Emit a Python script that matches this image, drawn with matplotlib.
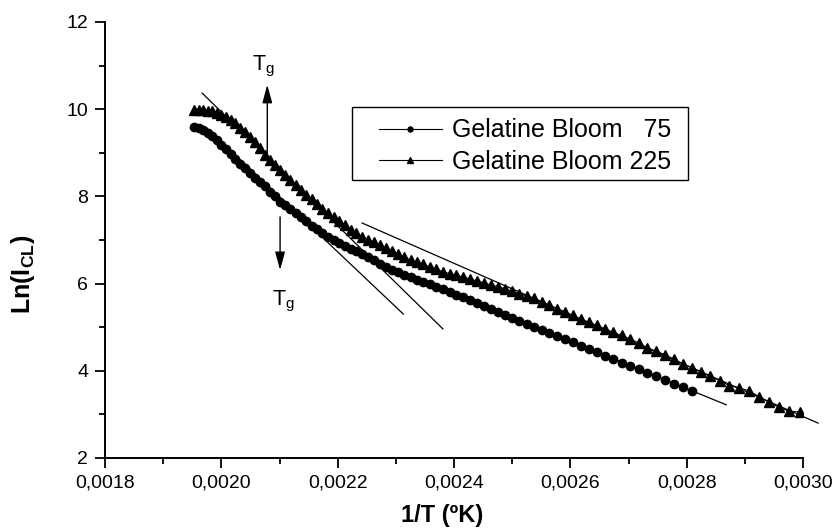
import matplotlib
matplotlib.use("Agg")
import matplotlib.pyplot as plt
from matplotlib.patches import Rectangle
from matplotlib.ticker import MultipleLocator, FuncFormatter

plt.rcParams["font.family"] = ["Liberation Sans", "DejaVu Sans"]
plt.rcParams["mathtext.fontset"] = "custom"
plt.rcParams["mathtext.rm"] = "Liberation Sans"
plt.rcParams["mathtext.bf"] = "Liberation Sans:bold"
plt.rcParams["mathtext.it"] = "Liberation Sans:italic"

# 1/T (K^-1), common abscissa for both samples (2 K steps)
inv_T = [
    0.0019531, 0.0019608, 0.0019685, 0.0019763, 0.0019841, 0.0019920, 0.0020000, 0.0020080,
    0.0020161, 0.0020243, 0.0020325, 0.0020408, 0.0020492, 0.0020576, 0.0020661, 0.0020747,
    0.0020833, 0.0020921, 0.0021008, 0.0021097, 0.0021186, 0.0021277, 0.0021368, 0.0021459,
    0.0021552, 0.0021645, 0.0021739, 0.0021834, 0.0021930, 0.0022026, 0.0022124, 0.0022222,
    0.0022321, 0.0022422, 0.0022523, 0.0022624, 0.0022727, 0.0022831, 0.0022936, 0.0023041,
    0.0023148, 0.0023256, 0.0023364, 0.0023474, 0.0023585, 0.0023697, 0.0023810, 0.0023923,
    0.0024038, 0.0024155, 0.0024272, 0.0024390, 0.0024510, 0.0024631, 0.0024752, 0.0024876,
    0.0025000, 0.0025126, 0.0025253, 0.0025381, 0.0025510, 0.0025641, 0.0025773, 0.0025907,
    0.0026042, 0.0026178, 0.0026316, 0.0026455, 0.0026596, 0.0026738, 0.0026882, 0.0027027,
    0.0027174, 0.0027322, 0.0027473, 0.0027624, 0.0027778, 0.0027933, 0.0028090, 0.0028249,
    0.0028409, 0.0028571, 0.0028736, 0.0028902, 0.0029070, 0.0029240, 0.0029412, 0.0029586,
    0.0029762, 0.0029940,
]

# Gelatine Bloom 75 (circles)
ln_icl_75 = [
    9.60, 9.57, 9.52, 9.45, 9.38, 9.30, 9.19, 9.08, 8.97, 8.86, 8.75, 8.64, 8.53, 8.42,
    8.32, 8.23, 8.11, 8.00, 7.88, 7.80, 7.70, 7.61, 7.52, 7.44, 7.33, 7.26, 7.15, 7.07,
    7.00, 6.94, 6.87, 6.80, 6.74, 6.67, 6.60, 6.53, 6.45, 6.37, 6.32, 6.26, 6.20, 6.14,
    6.09, 6.04, 5.98, 5.93, 5.87, 5.81, 5.75, 5.69, 5.62, 5.56, 5.49, 5.42, 5.36, 5.29,
    5.22, 5.15, 5.08, 5.01, 4.94, 4.87, 4.80, 4.72, 4.65, 4.58, 4.50, 4.43, 4.35, 4.27,
    4.19, 4.11, 4.03, 3.95, 3.87, 3.79, 3.70, 3.62, 3.53,
]

# Gelatine Bloom 225 (triangles)
ln_icl_225 = [
    9.98, 9.98, 9.98, 9.97, 9.95, 9.92, 9.87, 9.82, 9.75, 9.68, 9.58, 9.48, 9.37, 9.25,
    9.10, 8.96, 8.84, 8.72, 8.61, 8.49, 8.38, 8.27, 8.15, 8.04, 7.93, 7.83, 7.72, 7.62,
    7.52, 7.43, 7.34, 7.23, 7.15, 7.08, 7.01, 6.95, 6.89, 6.82, 6.75, 6.67, 6.60, 6.54,
    6.49, 6.44, 6.38, 6.33, 6.27, 6.23, 6.19, 6.15, 6.11, 6.06, 6.02, 5.97, 5.93, 5.88,
    5.82, 5.77, 5.71, 5.66, 5.58, 5.50, 5.42, 5.34, 5.27, 5.18, 5.11, 5.04, 4.96, 4.88,
    4.81, 4.73, 4.64, 4.53, 4.45, 4.37, 4.27, 4.16, 4.07, 3.97, 3.87, 3.77, 3.66, 3.61,
    3.54, 3.41, 3.28, 3.16, 3.07, 3.06,
]

# straight-line fits (end points)
fit_225_high = ([0.001967, 0.002381], [10.37, 4.96])
fit_75_high = ([0.001975, 0.002313], [9.57, 5.30])
fit_225_low = ([0.002242, 0.003026], [7.39, 2.80])
fit_75_low = ([0.002350, 0.002868], [6.05, 3.22])

# Tg markers: x, arrow tail, arrow tip, label position
tg_up = (0.002079, 8.83, 10.56, 0.002053, 10.90)
tg_down = (0.002101, 7.53, 6.31, 0.002087, 5.49)

W, H = 835, 532
fig = plt.figure(figsize=(W / 100, H / 100), dpi=100)
ax = fig.add_axes([105 / W, 1 - 458 / H, 698 / W, 436 / H])

n75 = len(ln_icl_75)
ax.plot(inv_T[:n75], ln_icl_75, color="black", lw=0.8, marker="o", ms=6,
        label="Gelatine Bloom   75")
ax.plot(inv_T, ln_icl_225, color="black", lw=0.8, marker="^", ms=7.5,
        label="Gelatine Bloom 225")

for xs, ys in (fit_225_high, fit_75_high, fit_225_low, fit_75_low):
    ax.plot(xs, ys, color="black", lw=0.9, clip_on=False)

for x, y0, y1, tx, ty in (tg_up, tg_down):
    ax.annotate("", xy=(x, y1), xytext=(x, y0),
                arrowprops=dict(arrowstyle="-|>,head_length=0.55,head_width=0.15",
                                color="black", lw=1.0, shrinkA=0, shrinkB=0,
                                mutation_scale=20))
    ax.text(tx, ty, r"T$_\mathregular{g}$", fontsize=15.5, ha="left", va="baseline")

ax.set_xlim(0.0018, 0.0030)
ax.set_ylim(2, 12)
ax.xaxis.set_major_locator(MultipleLocator(0.0002))
ax.xaxis.set_minor_locator(MultipleLocator(0.0001))
ax.yaxis.set_major_locator(MultipleLocator(2))
ax.yaxis.set_minor_locator(MultipleLocator(1))
ax.xaxis.set_major_formatter(FuncFormatter(lambda v, p: f"{v:.4f}".replace(".", ",")))
ax.yaxis.set_major_formatter(FuncFormatter(lambda v, p: f"{v:.0f}"))
ax.tick_params(which="major", direction="out", length=7, width=1.3, labelsize=14, pad=5)
ax.tick_params(which="minor", direction="out", length=4, width=1.3)
ax.spines[["top", "right"]].set_visible(False)
for s in ("left", "bottom"):
    ax.spines[s].set_linewidth(1.4)

ax.set_xlabel("1/T (ºK)", fontsize=17, fontweight="bold")
ax.set_ylabel(r"Ln(I$_{\mathbf{CL}}$)", fontsize=18, fontweight="bold")
ax.xaxis.set_label_coords(0.483, -0.105)
ax.yaxis.set_label_coords(-0.098, 0.42)

# legend with a square black frame
fig.patches.append(Rectangle((352 / W, 1 - 180 / H), 336 / W, 73 / H,
                             transform=fig.transFigure, fill=False,
                             edgecolor="black", lw=1.0))
ax.legend(loc="center", bbox_to_anchor=(525 / W, 1 - 146 / H),
          bbox_transform=fig.transFigure, frameon=False, fontsize=18,
          handlelength=2.5, handletextpad=0.4, labelspacing=0.3,
          markerscale=0.6, borderpad=0)

fig.savefig("out.png", dpi=100)
